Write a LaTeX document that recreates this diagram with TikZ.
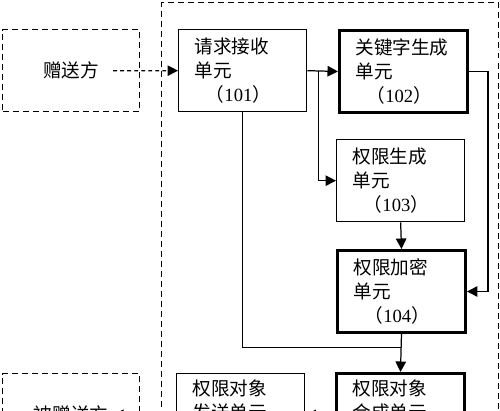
\documentclass[tikz,border=0pt]{standalone}
\usepackage{fontspec}
\setmainfont{Liberation Serif}
\newfontfamily\cjk{Noto Sans CJK SC}
\usetikzlibrary{positioning, calc, arrows.meta}
\newcommand{\unitno}[1]{\hspace*{0.6em}（{\rmfamily #1}）}
\tikzset{
    unit/.style={
        rectangle,
        draw,
        line width=0.75pt,
        anchor=north west,
        minimum width=2.56cm,
        minimum height=1.64cm,
        text width=1.92cm,
        inner xsep=0.32cm,
        align=left,
        font=\cjk\fontsize{10.6pt}{13.7pt}\selectfont
    },
    keyunit/.style={
        unit,
        line width=1.7pt
    },
    party/.style={
        rectangle,
        draw,
        line width=0.8pt,
        dash pattern=on 3.4pt off 2.3pt,
        anchor=north west,
        minimum width=2.74cm,
        minimum height=1.64cm,
        font=\cjk\fontsize{10.6pt}{13.7pt}\selectfont
    },
    sysbox/.style={
        rectangle,
        draw,
        line width=0.8pt,
        dash pattern=on 3.4pt off 2.3pt,
        anchor=north west,
        minimum width=6.74cm,
        minimum height=9cm
    },
    ptr/.style={
        ->,
        >={Triangle[length=2.1mm,width=2.1mm]},
        line width=0.7pt
    },
    dptr/.style={
        ptr,
        dash pattern=on 2.2pt off 1.8pt
    }
}

\begin{document}
\begin{tikzpicture}[x=0.02cm, y=-0.02cm]
    \useasboundingbox (0,0) rectangle (500,410);

    % khung
    \node[sysbox] (sys) at (161,2) {};
    \node[party] (giver) at (2,29) {赠送方};
    \node[party] (receiver) at (2,373) {被赠送方};

    % các đơn vị
    \node[unit] (u101) at (178,29) {请求接收\\单元\\\unitno{101}};
    \node[keyunit] (u102) at (338,29) {关键字生成\\单元\\\unitno{102}};
    \node[unit] (u103) at (336,139) {权限生成\\单元\\\unitno{103}};
    \node[keyunit] (u104) at (336,249) {权限加密\\单元\\\unitno{104}};
    \node[keyunit] (u105) at (335,372) {权限对象\\合成单元\\\strut};
    \node[unit] (u106) at (176,373) {权限对象\\发送单元\\\strut};

    % liên kết
    \draw[dptr] ([xshift=0.84cm]giver.center) -- (u101.west);
    \draw[ptr] (u101.east) -- (u102.west);
    \coordinate (fork) at ($(u101.east)!0.375!(u102.west)$);
    \draw[ptr] (fork) |- (u103.west);
    \draw[ptr] (u102.east) -- ++(19,0) |- (u104.east);
    \draw[ptr] (u103.south) -- (u104.north);
    \draw[ptr] (u104.south) -- (u105.north);
    \coordinate (join) at ($(u104.south)!0.35!(u105.north)$);
    \draw[line width=0.7pt] (u101.south) |- (join);
    \draw[ptr] (u105.west) -- (u106.east);
    \draw[dptr] (u106.west) -- ([xshift=0.84cm]receiver.center);
\end{tikzpicture}
\end{document}
